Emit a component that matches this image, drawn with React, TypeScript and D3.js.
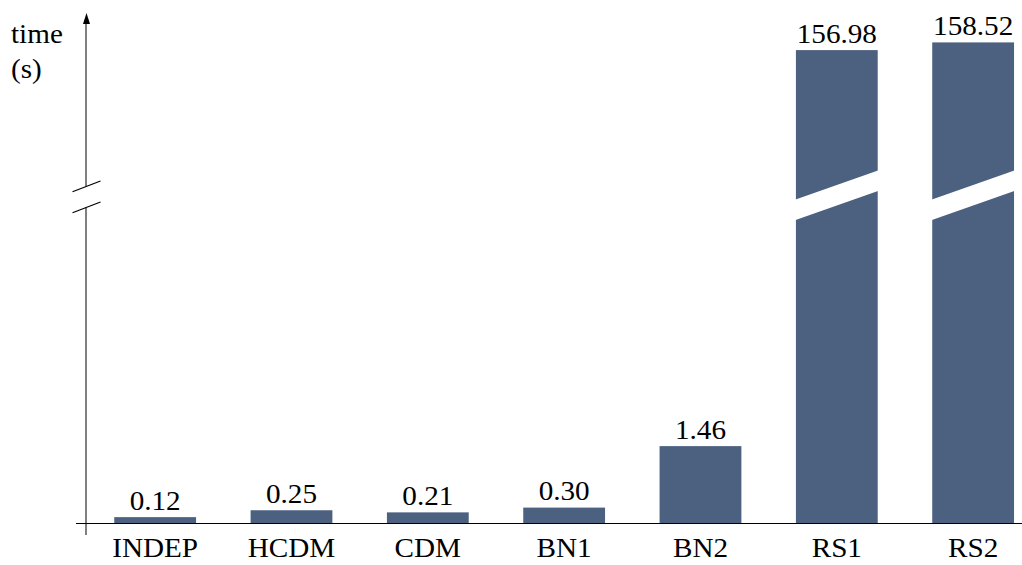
import React from "react";
import * as d3 from "d3";

// Solver run times (seconds) per method
const categories: string[] = ["INDEP", "HCDM", "CDM", "BN1", "BN2", "RS1", "RS2"];
const times: number[] = [0.12, 0.25, 0.21, 0.3, 1.46, 156.98, 158.52];
const valueLabels: string[] = ["0.12", "0.25", "0.21", "0.30", "1.46", "156.98", "158.52"];

// The y axis is broken: a lower linear segment and an upper one
const lowerDomain: [number, number] = [0, 6];
const upperDomain: [number, number] = [130, 160];

const W = 1022;
const H = 565;
const BAR = "#4c6080";
const SX = 1.08;

// Serif label, slightly widened horizontally
function Label(props: { x: number; y: number; anchor?: string; children: React.ReactNode }) {
  return (
    <g transform={`translate(${props.x},${props.y}) scale(${SX},1)`}>
      <text
        x={0}
        y={0}
        textAnchor={props.anchor ?? "middle"}
        style={{ fontFamily: "'Liberation Serif'", fontSize: 27 }}
      >
        {props.children}
      </text>
    </g>
  );
}

export default function App() {
  const axisX = 86;
  const baseY = 523.5;

  const x = d3
    .scaleBand<string>()
    .domain(categories)
    .range([87, 1041.3])
    .paddingInner(0.4)
    .paddingOuter(0.2);

  const yLow = d3.scaleLinear().domain(lowerDomain).range([baseY, 205.5]);
  const yHigh = d3.scaleLinear().domain(upperDomain).range([185, 35]);

  const yOf = (v: number) => (v <= lowerDomain[1] ? yLow(v) : yHigh(v));

  const breakTop = yHigh(upperDomain[0]);
  const breakBottom = yLow(lowerDomain[1]);
  const slope = 0.354; // rise per px of the white gap across broken bars

  const axisBreak1 = 186.5;
  const axisBreak2 = 207.5;

  return (
    <svg width={W} height={H} fontFamily="Liberation Serif" style={{ position: "absolute", left: 0, top: 0 }}>
      <rect width={W} height={H} fill="#fff" />

      {/* bars */}
      {categories.map((c, i) => {
        const x0 = x(c)!;
        const bw = x.bandwidth();
        const top = yOf(times[i]);
        const cx = x0 + bw / 2;
        const broken = times[i] > lowerDomain[1];
        return (
          <g key={c}>
            <rect x={x0} y={top} width={bw} height={baseY - top} fill={BAR} />
            {broken && (
              <polygon
                points={[
                  [x0 - 1, breakTop + (cx - x0 + 1) * slope],
                  [x0 + bw + 1, breakTop - (bw / 2 + 1) * slope],
                  [x0 + bw + 1, breakBottom - (bw / 2 + 1) * slope],
                  [x0 - 1, breakBottom + (cx - x0 + 1) * slope],
                ]
                  .map((p) => p.join(","))
                  .join(" ")}
                fill="#fff"
              />
            )}
            <Label x={cx} y={top - 7.5}>
              {valueLabels[i]}
            </Label>
            <Label x={cx} y={557}>
              {c}
            </Label>
          </g>
        );
      })}

      {/* baseline */}
      <line x1={76} x2={W} y1={baseY} y2={baseY} stroke="#000" strokeWidth={1.2} />

      {/* broken y axis */}
      <line x1={axisX} x2={axisX} y1={22} y2={axisBreak1} stroke="#000" strokeWidth={1} />
      <line x1={axisX} x2={axisX} y1={axisBreak2} y2={535} stroke="#000" strokeWidth={1} />
      {[axisBreak1, axisBreak2].map((by, k) => (
        <line
          key={k}
          x1={axisX - 13.5}
          y1={by + 5.3}
          x2={axisX + 14.5}
          y2={by - 5.5}
          stroke="#000"
          strokeWidth={1.2}
        />
      ))}
      <path d={`M${axisX + 0.5},13 L${axisX + 4},24 L${axisX - 3},24 Z`} fill="#000" />

      {/* axis title */}
      <Label x={11} y={43} anchor="start">
        time
      </Label>
      <Label x={11} y={78} anchor="start">
        (s)
      </Label>
    </svg>
  );
}
